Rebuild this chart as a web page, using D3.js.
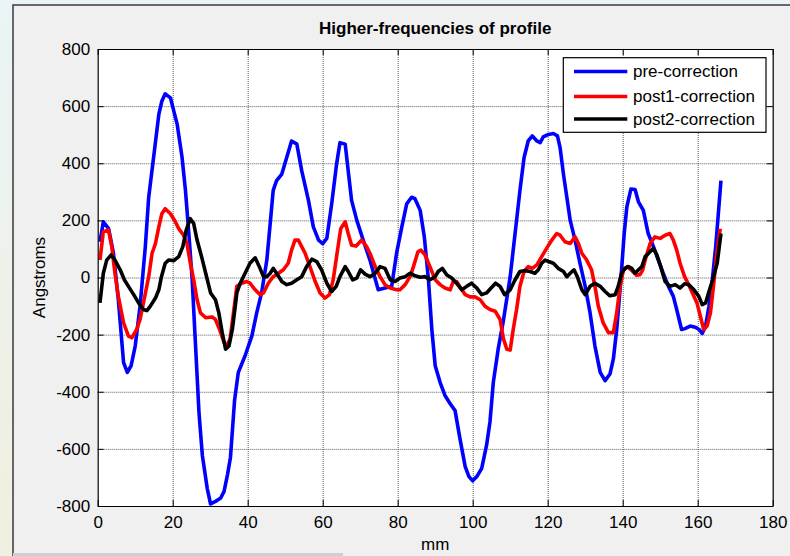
<!DOCTYPE html>
<html>
<head>
<meta charset="utf-8">
<script src="https://cdn.jsdelivr.net/npm/d3@7/dist/d3.min.js"></script>
<style>
  html, body { margin: 0; padding: 0; background: #f0f0f0; }
  svg { display: block; }
  text { font-family: "Liberation Sans", Arial, Helvetica, sans-serif; }
</style>
</head>
<body>
<svg id="chart" width="790" height="556"></svg>
<script>
// Profile residuals, [position mm, height Å]
const preCorrection = [
  [0.6,125],[1.5,195],[2.9,171],[4.2,85],[5.5,-78],[6.9,-298],[7.9,-332],[8.9,-309],[10,-240],
  [11.3,-100],[12.7,108],[13.6,281],[14.9,420],[16.3,571],[17.1,617],[18,643],[19.4,629],[21.2,536],
  [22.5,420],[23.4,305],[24.3,154],[25.2,-8],[26.1,-240],[27,-471],[27.9,-622],[29.2,-738],[30.1,-793],
  [31.4,-784],[32.8,-772],[33.7,-749],[34.6,-691],[35.4,-630],[36.5,-430],[37.5,-332],[39.3,-274],
  [41.1,-205],[42.4,-124],[43.7,-54],[45.1,61],[46,189],[46.8,305],[47.7,339],[49.1,362],[50.4,420],
  [51.7,478],[53.1,467],[54.4,374],[56.2,270],[57.5,177],[58.9,131],[60,119],[61.1,137],[62.4,258],
  [63.7,397],[64.6,472],[66,467],[66.8,374],[67.7,270],[69.1,200],[70.8,131],[72.6,61],[74.8,-43],
  [76.6,-37],[78.4,-31],[79.7,85],[81.1,177],[82.4,258],[83.7,281],[84.6,276],[86,235],[87.1,142],
  [88.2,-8],[89.1,-182],[90,-309],[91.3,-367],[92.6,-413],[94,-442],[95.3,-466],[96.6,-564],[98,-662],
  [99,-697],[100,-712],[101.1,-697],[102.4,-668],[103.7,-587],[104.6,-506],[105.5,-367],[106.8,-250],
  [108.2,-150],[110,3],[111.3,154],[112.6,305],[113.7,420],[114.8,478],[115.9,496],[117.1,478],
  [118,472],[118.8,492],[120.2,501],[121.5,504],[122.6,496],[123.3,455],[124.2,362],[125.1,281],
  [126,200],[127.3,131],[128.6,50],[130,-31],[131.3,-124],[132.6,-240],[134,-332],[135.3,-361],
  [136.6,-338],[137.5,-286],[138.4,-182],[139.5,-8],[140.4,154],[141.1,247],[142.2,310],[143.3,308],
  [144.2,265],[145.5,235],[146.8,154],[148.2,108],[149.5,61],[150.8,15],[152.2,-31],[153.5,-66],
  [154.4,-112],[155.7,-182],[156.6,-179],[158,-170],[159.3,-174],[160.4,-182],[161.2,-196],[162.1,-170],
  [163,-101],[163.9,-8],[164.8,108],[165.5,223],[166.2,339]
];

const post1Correction = [
  [0.6,61],[1.5,160],[2.9,166],[3.75,108],[4.6,15],[5.5,-66],[6.9,-159],[8.2,-205],[9.1,-211],
  [10.4,-182],[11.3,-147],[12.2,-89],[13.6,3],[14.5,85],[15.4,119],[16.3,177],[17.1,223],[18,241],
  [19.4,223],[20.7,195],[21.6,171],[22.9,148],[23.8,119],[24.7,50],[25.6,-8],[26.5,-78],[27.4,-124],
  [28.8,-141],[30.5,-138],[31.4,-147],[32.5,-182],[33.7,-228],[34.3,-240],[35.3,-217],[36.2,-124],
  [37.1,-31],[38.4,-20],[39.7,-14],[40.6,-20],[42,-43],[43.3,-60],[44.2,-54],[45.5,-20],[46.8,3],
  [48.2,15],[49.5,27],[50.8,50],[51.7,96],[52.6,131],[53.5,131],[54.4,108],[55.3,85],[56.6,38],
  [58,-14],[59.3,-54],[60.6,-72],[61.8,-60],[62.8,-8],[63.7,73],[64.8,171],[66,195],[66.8,154],
  [67.7,113],[68.9,110],[70.4,131],[71.7,108],[72.6,85],[74,38],[75.3,3],[76.6,-25],[78,-37],
  [79.7,-43],[80.6,-43],[82,-25],[83.3,3],[84.2,38],[85.4,90],[86.2,96],[87.3,79],[88.6,38],[90,-8],
  [91.3,-25],[92.6,-37],[94,-43],[94.8,-14],[95.7,-14],[97.1,-43],[98,-60],[99.3,-68],[100.6,-68],
  [102,-78],[103.3,-101],[104.6,-112],[106,-118],[107.3,-147],[108.2,-215],[109.1,-251],[110,-254],
  [110.8,-182],[111.7,-112],[112.6,-31],[113.7,21],[114.8,38],[115.9,32],[117.1,44],[118.4,73],
  [119.7,102],[121.1,131],[122.4,154],[123.3,148],[124.6,125],[126,119],[127.3,142],[128.2,119],
  [129.1,85],[130.4,61],[131.7,27],[132.6,-31],[133.5,-101],[134.8,-159],[136.2,-193],[137.5,-193],
  [138.4,-124],[139.3,-31],[140.2,27],[141.2,38],[142.4,25],[143.7,8],[144.6,10],[145.3,25],[146,61],
  [147.3,119],[148.6,142],[150,137],[151.3,148],[152.6,154],[153.5,131],[154.4,96],[155.3,50],
  [156.5,3],[157.6,-25],[158.6,-54],[159.8,-89],[160.7,-135],[161.6,-182],[162.5,-170],[163.4,-124],
  [164.2,-31],[165.1,85],[166,171]
];

const post2Correction = [
  [0.6,-89],[1.5,15],[2.4,61],[3.6,79],[4.6,61],[6,27],[7.1,-8],[8.2,-31],[9.6,-60],[10.9,-89],
  [12.2,-112],[13.1,-116],[14,-101],[15.4,-72],[16.3,-43],[17,3],[18,50],[18.9,61],[20.3,59],
  [21.6,73],[22.7,108],[23.6,166],[24.7,206],[25.6,189],[26.5,131],[27.7,73],[28.8,15],[30.1,-54],
  [31.4,-78],[32.3,-124],[33.2,-193],[34.1,-251],[35,-240],[35.9,-182],[36.5,-120],[37.1,-54],
  [38,-20],[39.3,15],[40.6,50],[42,69],[43.1,38],[44.2,3],[45.1,3],[46,15],[46.8,32],[47.7,15],
  [49.1,-14],[50.4,-25],[51.7,-20],[53.1,-8],[54.4,3],[55.7,38],[57.1,64],[58.4,56],[59.7,27],
  [61.1,-20],[62.4,-49],[63.6,-31],[64.6,3],[66,38],[66.8,21],[68,-8],[69.1,-2],[70.1,27],[71.3,12],
  [72.6,3],[74,15],[75.3,38],[76.6,32],[78,-8],[79.3,-14],[80.6,-2],[82,3],[83.3,15],[84.6,6],[86,1],
  [87.3,3],[88.6,-8],[90,3],[90.8,21],[91.9,32],[93.1,9],[94.4,-2],[95.7,-20],[97.1,-43],[98.4,-31],
  [99.7,-20],[101.1,-37],[102.4,-60],[103.7,-54],[104.9,-37],[106.1,-20],[107.3,-31],[108.5,-60],
  [110,-43],[111.3,-8],[112.6,21],[114,24],[115.3,21],[116.6,15],[117.5,27],[118.4,50],[119.3,61],
  [120.2,56],[121.5,50],[122.8,32],[124.2,21],[125.1,3],[126,15],[127,27],[127.9,3],[129.1,-43],
  [130,-60],[131.3,-31],[132.6,-20],[134,-31],[135.3,-49],[136.6,-64],[138,-60],[138.8,-31],
  [139.7,15],[140.6,32],[141.5,38],[142.4,32],[143.3,15],[144.2,27],[145.1,38],[146,73],[147.3,90],
  [148.2,102],[149.1,79],[150,44],[151.3,-14],[152.6,-31],[154,-25],[155.3,-37],[156.5,-22],
  [157.6,-25],[159,-43],[160.3,-66],[161.2,-95],[162.1,-89],[163,-49],[164,-8],[165.2,50],[166.2,154]
];

const seriesNames = ["pre-correction", "post1-correction", "post2-correction"];
const seriesColors = ["#0000ff", "#ff0000", "#000000"];
const xTicks = [0, 20, 40, 60, 80, 100, 120, 140, 160, 180];
const yTicks = [-800, -600, -400, -200, 0, 200, 400, 600, 800];
const titleText = "Higher-frequencies of profile";
const xLabelText = "mm";
const yLabelText = "Angstroms";

const svg = d3.select("#chart");
const W = 790, H = 556;
const plot = { left: 97.7, right: 772.7, top: 49, bottom: 506 };
const FONT = 17;
const LINE_W = 3.6;

// desktop behind the figure window
const defs = svg.append("defs");
const grad = defs.append("linearGradient").attr("id", "desk").attr("x1", 0).attr("y1", 0).attr("x2", 0).attr("y2", 1);
grad.append("stop").attr("offset", "0%").attr("stop-color", "#eaf4f6");
grad.append("stop").attr("offset", "100%").attr("stop-color", "#f1efdf");
svg.append("rect").attr("width", W).attr("height", H).attr("fill", "url(#desk)");

// figure window
svg.append("rect").attr("x", 13).attr("y", 5).attr("width", W).attr("height", H)
  .attr("fill", "#f0f0f0").attr("stroke", "#3a3a3a").attr("stroke-width", 1.5);
svg.append("rect").attr("x", 13).attr("y", 553).attr("width", 330).attr("height", 3).attr("fill", "#cfcfcf");

const x = d3.scaleLinear().domain([0, 180]).range([plot.left, plot.right]);
const y = d3.scaleLinear().domain([-800, 800]).range([plot.bottom, plot.top]);
const pw = plot.right - plot.left, ph = plot.bottom - plot.top;

// axes background
svg.append("rect").attr("x", plot.left).attr("y", plot.top).attr("width", pw).attr("height", ph).attr("fill", "#ffffff");

// dotted grid
const gridStyle = g => {
  g.select(".domain").remove();
  g.selectAll(".tick text").remove();
  g.selectAll(".tick line").attr("stroke", "#5a5a5a").attr("stroke-dasharray", "1,1").attr("stroke-width", 1);
};
svg.append("g").attr("transform", `translate(0,${plot.bottom})`)
  .call(d3.axisBottom(x).tickValues(xTicks.filter(v => v > 0 && v < 180)).tickSize(-ph).tickFormat(""))
  .call(gridStyle);
svg.append("g").attr("transform", `translate(${plot.left},0)`)
  .call(d3.axisLeft(y).tickValues(yTicks.filter(v => v > -800 && v < 800)).tickSize(-pw).tickFormat(""))
  .call(gridStyle);

// series
const line = d3.line().x(d => x(d[0])).y(d => y(d[1]));
const clip = defs.append("clipPath").attr("id", "plotclip");
clip.append("rect").attr("x", plot.left).attr("y", plot.top).attr("width", pw).attr("height", ph);
const seriesData = [preCorrection, post1Correction, post2Correction];
const lines = svg.append("g").attr("clip-path", "url(#plotclip)");
seriesData.forEach((data, i) => {
  lines.append("path").datum(data).attr("d", line)
    .attr("fill", "none").attr("stroke", seriesColors[i]).attr("stroke-width", LINE_W)
    .attr("stroke-linejoin", "round").attr("stroke-linecap", "butt");
});

// axes with inward ticks on all four sides
const axisStyle = g => {
  g.select(".domain").attr("stroke", "#000").attr("stroke-width", 1.2);
  g.selectAll(".tick line").attr("stroke", "#000");
  g.selectAll(".tick text").attr("fill", "#000").style("font-size", FONT + "px")
    .style("font-family", '"Liberation Sans", Arial, sans-serif');
};
const fmt = d => String(d);
svg.append("g").attr("transform", `translate(0,${plot.bottom})`)
  .call(d3.axisBottom(x).tickValues(xTicks).tickSize(-6).tickSizeOuter(0).tickPadding(10).tickFormat(fmt))
  .call(axisStyle);
svg.append("g").attr("transform", `translate(0,${plot.top})`)
  .call(d3.axisTop(x).tickValues(xTicks).tickSize(-6).tickSizeOuter(0).tickFormat(""))
  .call(axisStyle);
svg.append("g").attr("transform", `translate(${plot.left},0)`)
  .call(d3.axisLeft(y).tickValues(yTicks).tickSize(-6).tickSizeOuter(0).tickPadding(7.5).tickFormat(fmt))
  .call(axisStyle);
svg.append("g").attr("transform", `translate(${plot.right},0)`)
  .call(d3.axisRight(y).tickValues(yTicks).tickSize(-6).tickSizeOuter(0).tickFormat(""))
  .call(axisStyle);

// title and labels
svg.append("text").attr("x", (plot.left + plot.right) / 2).attr("y", 34)
  .attr("text-anchor", "middle").style("font-size", FONT + "px").style("font-weight", "bold").text(titleText);
svg.append("text").attr("x", (plot.left + plot.right) / 2).attr("y", 550)
  .attr("text-anchor", "middle").style("font-size", FONT + "px").text(xLabelText);
svg.append("text").attr("transform", `translate(45,${(plot.top + plot.bottom) / 2}) rotate(-90)`)
  .attr("text-anchor", "middle").style("font-size", FONT + "px").text(yLabelText);

// legend
const legend = svg.append("g").attr("transform", "translate(563.3,57.7)");
legend.append("rect").attr("width", 202.7).attr("height", 74.6)
  .attr("fill", "#fff").attr("stroke", "#000").attr("stroke-width", 1.2);
const rowY = [13.8, 38.8, 61.3];
seriesNames.forEach((name, i) => {
  legend.append("line").attr("x1", 10.7).attr("x2", 64).attr("y1", rowY[i]).attr("y2", rowY[i])
    .attr("stroke", seriesColors[i]).attr("stroke-width", LINE_W);
  legend.append("text").attr("x", 69.7).attr("y", rowY[i]).attr("dy", "0.35em")
    .style("font-size", FONT + "px").text(name);
});
</script>
</body>
</html>
